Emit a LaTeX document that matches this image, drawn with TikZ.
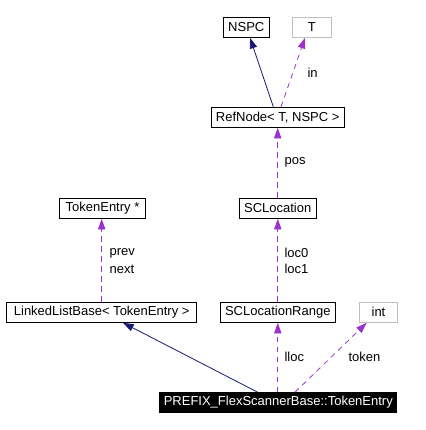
\documentclass[tikz,border=0pt]{standalone}
\usepackage{fontspec}
\setmainfont{Liberation Sans}
\usetikzlibrary{arrows.meta}

\definecolor{inhblue}{RGB}{25,25,112}
\definecolor{usepurple}{RGB}{154,50,205}
\definecolor{extgrey}{RGB}{191,191,191}

\begin{document}
\begin{tikzpicture}[x=0.75pt,y=0.75pt,yscale=-1,
    box/.style={draw=black,line width=0.75pt,inner sep=0pt,minimum height=15pt,font=\fontsize{9.75}{11}\selectfont},
    extbox/.style={box,draw=extgrey},
    mainbox/.style={box,fill=black,text=white,minimum height=14.7pt},
    lbl/.style={inner sep=0pt,anchor=west,font=\fontsize{9.75}{11}\selectfont},
    inh/.style={draw=inhblue,line width=0.6pt,-{Triangle[length=8pt,width=5.5pt]}},
    uses/.style={draw=usepurple,line width=0.6pt,dash pattern=on 4pt off 3.5pt,-{Triangle[length=8pt,width=5.5pt]}}]
  \useasboundingbox (0,0) rectangle (426,430);

  % Class Nodes
  \node[box,minimum width=34.5pt] (nspc) at (246.3,27.3) {NSPC};
  \node[extbox,minimum width=29.25pt] (targ) at (311.8,27.3) {T};
  \node[box,minimum width=100pt] (refnode) at (277.7,117.3) {RefNode< T, NSPC >};
  \node[box,minimum width=64.8pt] (tokptr) at (102.5,208.3) {TokenEntry *};
  \node[box,minimum width=58pt] (scloc) at (277.7,208.3) {SCLocation};
  \node[box,minimum width=142.5pt] (llbase) at (101.7,312.3) {LinkedListBase< TokenEntry >};
  \node[box,minimum width=86.25pt] (sclrange) at (277.8,312.3) {SCLocationRange};
  \node[extbox,minimum width=28.8pt] (inttype) at (378.5,312.3) {int};
  \node[mainbox,minimum width=177.5pt] (tokentry) at (278.3,402.5) {PREFIX\_FlexScannerBase::TokenEntry};

  % Inheritance
  \draw[inh] ([xshift=-3.3pt]refnode.north) -- ([xshift=2.8pt]nspc.south);
  \draw[inh] ([xshift=-15.5pt]tokentry.north) -- ([xshift=16pt]llbase.south);

  % Usage
  \draw[uses] ([xshift=2.5pt]refnode.north) -- ([xshift=-5.1pt]targ.south);
  \draw[uses] (scloc.north) -- (refnode.south);
  \draw[uses] (llbase.north) -- (llbase.north |- tokptr.south);
  \draw[uses] (sclrange.north) -- (sclrange.north |- scloc.south);
  \draw[uses] (tokentry.north -| sclrange.south) -- (sclrange.south);
  \draw[uses] ([xshift=12.5pt]tokentry.north) -- ([xshift=-8.9pt]inttype.south);

  % Text Node
  \node[lbl] (inlbl) at (307.3,72.7) {in};
  \node[lbl] (poslbl) at (284.3,162.7) {pos};
  \node[lbl] (prevlbl) at (109.3,253.3) {prev};
  \node[lbl] (nextlbl) at (109.3,269) {next};
  \node[lbl] (loc0lbl) at (284.3,253.3) {loc0};
  \node[lbl] (loc1lbl) at (284.3,269) {loc1};
  \node[lbl] (lloclbl) at (284.3,357.3) {lloc};
  \node[lbl] (toklbl) at (348.3,357.3) {token};
\end{tikzpicture}
\end{document}
